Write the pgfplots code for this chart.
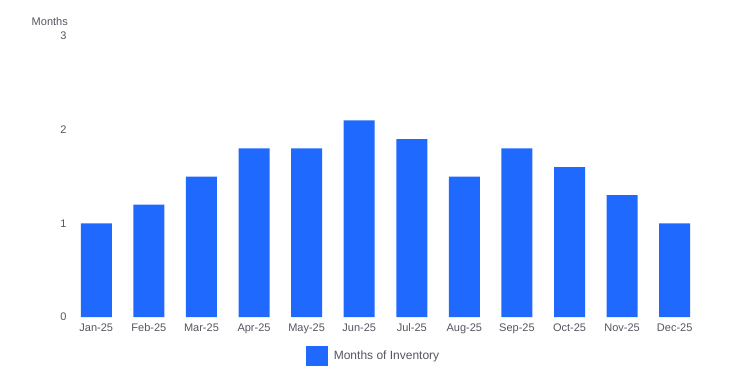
\documentclass[border=0pt]{standalone}
\usepackage{pgfplots}
\pgfplotsset{compat=1.18}
\usepackage{fontspec}
\setmainfont{Liberation Sans}
\definecolor{barblue}{HTML}{1F69FF}
\definecolor{txt}{HTML}{555560}
\begin{document}
\begin{tikzpicture}[x=1bp,y=1bp]
\useasboundingbox (0,0) rectangle (737,379);
\begin{axis}[
  at={(70bp,62bp)}, anchor=south west,
  scale only axis, width=631bp, height=281bp,
  xmin=-0.5, xmax=11.5, ymin=0, ymax=3,
  axis line style={draw=none},
  clip=false,
  xtick={0,...,11},
  xticklabels={Jan-25,Feb-25,Mar-25,Apr-25,May-25,Jun-25,Jul-25,Aug-25,Sep-25,Oct-25,Nov-25,Dec-25},
  ytick={0,1,2,3},
  tick style={draw=none},
  every tick label/.append style={font=\fontsize{11bp}{13bp}\selectfont, text=txt},
  /pgf/number format/assume math mode=true,
  xticklabel style={yshift=-3bp},
  legend style={at={(0.481,-0.139)}, anchor=center, draw=none, font=\fontsize{12bp}{14bp}\selectfont, text=txt},
  legend image code/.code={\fill[barblue] (-2bp,-10bp) rectangle (20bp,10bp);},
  legend cell align=left,
]
\addplot[ybar, bar width=31bp, fill=barblue, draw=none] coordinates {
(0,1.0) (1,1.2) (2,1.5) (3,1.8) (4,1.8) (5,2.1) (6,1.9) (7,1.5) (8,1.8) (9,1.6) (10,1.3) (11,1.0)};
\addlegendentry{\hspace{4bp}Months of Inventory}
\node[anchor=south east, font=\fontsize{11bp}{13bp}\selectfont, text=txt, inner sep=0pt] at (rel axis cs:0,1) [xshift=-2bp, yshift=10bp] {Months};
\end{axis}
\end{tikzpicture}
\end{document}
